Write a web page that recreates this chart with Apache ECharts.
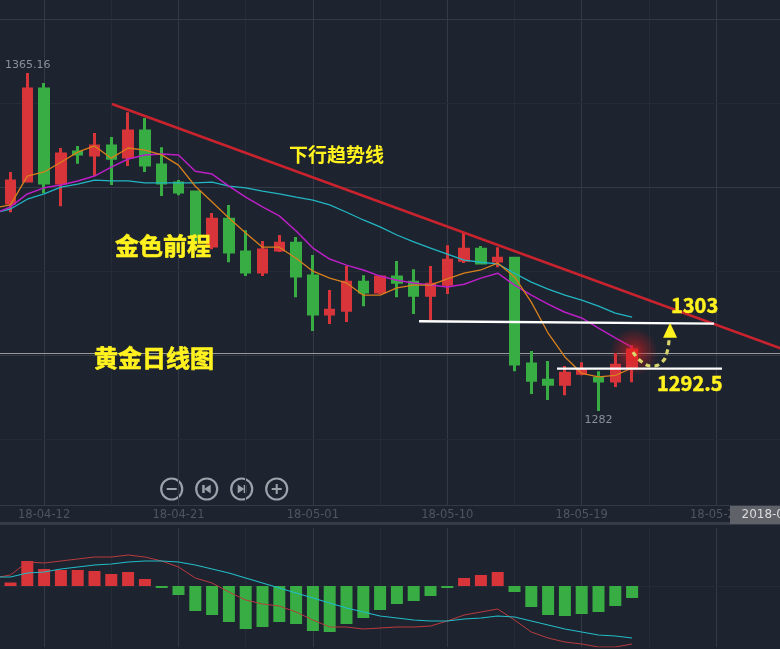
<!DOCTYPE html>
<html><head><meta charset="utf-8">
<style>html,body{margin:0;padding:0;background:#1e2330}#c{width:780px;height:649px}</style>
<script src="https://cdn.jsdelivr.net/npm/echarts@6/dist/echarts.min.js"></script>
</head><body><div id="c"></div>
<script>
const categories=['18-04-09','18-04-10','18-04-11','18-04-12','18-04-13','18-04-14','18-04-16','18-04-17','18-04-18','18-04-19','18-04-20','18-04-21','18-04-23','18-04-24','18-04-25','18-04-26','18-04-27','18-04-28','18-04-30','18-05-01','18-05-02','18-05-03','18-05-04','18-05-05','18-05-07','18-05-08','18-05-09','18-05-10','18-05-11','18-05-12','18-05-14','18-05-15','18-05-16','18-05-17','18-05-18','18-05-19','18-05-21','18-05-22','18-05-23','18-05-24','18-05-25','18-05-26','18-05-28','18-05-29','18-05-30','18-05-31','18-06-01','18-06-02'];
// open, close, low, high
const candles=[[1335,1333,1330,1338],[1333.2,1338.6,1330.9,1340.8],[1338.6,1361.2,1338.3,1365.16],[1361.2,1338.1,1335.6,1362.7],[1338.1,1345.2,1332.4,1346.7],[1345.7,1345.2,1342.8,1347.2],[1345.0,1347.2,1339.8,1350.4],[1347.2,1344.2,1337.6,1349.4],[1344.5,1350.9,1342.3,1355.5],[1350.9,1342.5,1340.8,1354.1],[1342.5,1338.1,1334.9,1346.9],[1338.1,1335.9,1335.1,1338.8],[1335.9,1324.8,1323.1,1336.2],[1322.6,1329.2,1321.8,1330.7],[1329.2,1321.1,1318.6,1332.7],[1321.1,1316.2,1315.2,1326.5],[1316.2,1321.6,1315.2,1323.8],[1321.6,1323.3,1321.1,1325.3],[1323.3,1315.2,1310.0,1324.8],[1315.2,1305.9,1301.7,1320.4],[1305.9,1306.8,1303.4,1311.8],[1306.8,1313.7,1303.9,1317.7],[1313.7,1311.3,1307.8,1315.4],[1311.3,1315.0,1310.8,1315.2],[1315.0,1313.7,1310.0,1318.9],[1313.7,1310.5,1305.9,1316.9],[1310.5,1313.2,1304.4,1317.7],[1313.2,1319.1,1310.8,1322.8],[1319.1,1321.8,1318.4,1325.8],[1321.8,1318.4,1318.2,1322.6],[1318.9,1319.6,1317.4,1322.3],[1319.6,1293.6,1291.8,1319.9],[1293.6,1289.6,1286.2,1296.8],[1289.6,1288.6,1284.7,1294.3],[1288.6,1291.3,1285.9,1293.1],[1291.3,1292.1,1290.8,1294.0],[1290.1,1289.4,1282,1291.8],[1289.4,1293.3,1287.9,1296.3],[1292.6,1297.0,1289.1,1298.2]];
const ma5=[1331.9,1332.7,1339.8,1340.8,1343.2,1345.7,1347.2,1344.2,1346.7,1346.2,1345.0,1342.5,1337.3,1333.4,1329.5,1325.8,1322.3,1322.3,1319.6,1316.4,1314.7,1313.5,1310.5,1310.5,1312.3,1313.0,1313.0,1314.5,1315.9,1316.7,1318.4,1315.0,1308.8,1301.2,1295.3,1291.3,1290.4,1290.8,1292.6];
const ma10=[1330.5,1332.2,1335.4,1336.9,1337.6,1338.6,1339.8,1342.0,1344.0,1345.0,1345.2,1345.0,1341.0,1340.3,1337.3,1334.6,1332.2,1330.0,1326.3,1322.1,1319.4,1317.9,1316.7,1315.2,1314.2,1313.5,1313.0,1312.5,1313.2,1314.7,1315.9,1313.0,1310.5,1308.3,1306.3,1304.9,1302.4,1300.0,1297.7];
const ma20=[1330.7,1331.7,1334.1,1335.4,1337.1,1337.8,1338.8,1338.6,1338.6,1338.1,1338.1,1338.1,1338.1,1338.3,1337.3,1336.9,1336.1,1335.4,1334.6,1333.9,1332.7,1330.9,1329.0,1327.3,1325.3,1323.6,1322.1,1320.6,1319.1,1318.6,1318.2,1315.9,1313.7,1312.0,1310.5,1309.3,1307.8,1306.1,1305.1];
const macdBars=[0.6,0.7,5,3.4,3.2,3.2,3,2.4,2.8,1.4,-0.4,-1.8,-5,-5.8,-7.2,-8.6,-8.2,-7.2,-7.6,-9,-9.2,-7.6,-6.4,-4.8,-3.6,-3,-2,-0.4,1.6,2.2,2.8,-1.2,-4.2,-5.8,-6,-5.6,-5.2,-4,-2.4];
const dif=[1.6,2.2,4.8,4.6,5,5.4,5.8,5.8,6.2,5.8,5,3.8,1.6,0.6,-1.2,-2.8,-3.6,-4,-5.2,-6.8,-8.2,-8.2,-8.6,-8.4,-8.2,-8.2,-8,-7,-5.8,-5.2,-4.6,-6.8,-9.2,-10.4,-11.2,-11.6,-12.2,-12.2,-11.6];
const dea=[1.8,1.8,2.6,2.8,3.4,3.8,4.2,4.4,4.8,5,5,4.8,4.2,3.4,2.6,1.6,0.6,-0.4,-1.4,-2.4,-3.4,-4.4,-5.2,-6,-6.4,-6.8,-7,-7,-6.6,-6.4,-6,-6.2,-7,-7.8,-8.6,-9.2,-9.8,-10,-10.4];
// annotation lines: [fractional bar index, price]
const trendLine=[[7.04,1357.5],[47,1297.2]];
const resistance=[[25.32,1304.1],[42.88,1303.5]];
const support=[[33.53,1292.45],[43.35,1292.45]];
const arrowPath=[[38.05,1296.5],[38.59,1294.05],[39.19,1293.07],[39.78,1294.05],[40.08,1296.5],[40.2,1300]];
const arrowHead=[[40.26,1301.9]];
const glow=[[38.11,1296.5]];
const crossPrice=1296.3;
const gridMajor=[1378.3,1337,1295.8];
const gridMinor=[1357.7,1316.4,1275.1];

const RED='#d8353b',GREEN='#37ad43',BG='#1e2330',MAJOR='#343946',MINOR='#262b38',YEL='#fff21e',GREY='#8b8f97',BTN='#9da1aa';
const cjk='"Noto Sans CJK SC"';

function hline(v,c,w){return {yAxis:v,lineStyle:{color:c,width:w,type:'solid'}};}
function annot(data,color,width,z,extra){return Object.assign({type:'line',xAxisIndex:1,yAxisIndex:0,data:data,symbol:'none',silent:true,animation:false,z:z,lineStyle:{color:color,width:width}},extra||{});}
function lineS(data,color,width,xi,yi,z){return {type:'line',xAxisIndex:xi,yAxisIndex:yi,data:data,symbol:'none',silent:true,animation:false,z:z,lineStyle:{color:color,width:width}};}
function text(t,x,y,font,fill,align,stroke){const st={text:t,x:x,y:y,font:font,fill:fill,textAlign:align||'left',textVerticalAlign:'middle'};if(stroke){st.stroke=fill;st.lineWidth=stroke;}return {type:'text',z:100,style:st};}

function btn(cx,kind){
  const cy=489,ch=[{type:'circle',shape:{cx:cx,cy:cy,r:10.5},style:{fill:'transparent',stroke:BTN,lineWidth:2.2}}];
  const bar=(x,y,w,h)=>ch.push({type:'rect',shape:{x:x,y:y,width:w,height:h},style:{fill:BTN}});
  const tri=(p)=>ch.push({type:'polygon',shape:{points:p},style:{fill:BTN}});
  if(kind==='minus'){bar(cx-5,cy-1,10,2);}
  if(kind==='plus'){bar(cx-5,cy-1,10,2);bar(cx-1,cy-5,2,10);}
  if(kind==='prev'){bar(cx-4.5,cy-4,2.5,8);tri([[cx+4,cy-4.5],[cx+4,cy+4.5],[cx-2.5,cy]]);}
  if(kind==='next'){bar(cx+2,cy-4,2.5,8);tri([[cx-4,cy-4.5],[cx-4,cy+4.5],[cx+2.5,cy]]);}
  return {type:'group',z:90,children:ch};
}

const chart=echarts.init(document.getElementById('c'),null,{renderer:'canvas'});
const splitV={show:true,alignWithLabel:true,interval:(i)=>i%4===3,lineStyle:{color:[MAJOR,MINOR],width:1}};
chart.setOption({
  animation:false,backgroundColor:BG,
  grid:[
    {left:-14.7,top:0,width:806.4,height:505,outerBoundsMode:'none'},
    {left:-14.7,top:528,width:806.4,height:119,outerBoundsMode:'none'}
  ],
  xAxis:[
    {type:'category',gridIndex:0,data:categories,boundaryGap:true,
      axisLine:{show:true,lineStyle:{color:MAJOR}},axisTick:{show:false},
      axisLabel:{show:true,interval:(i)=>i%8===3,color:'#50555f',fontFamily:'DejaVu Sans',fontSize:11.5,margin:4},
      splitLine:splitV},
    {type:'value',gridIndex:0,min:-0.5,max:47.5,show:false,splitLine:{show:false}},
    {type:'category',gridIndex:1,data:categories,boundaryGap:true,
      axisLine:{show:true,lineStyle:{color:MAJOR}},axisTick:{show:false},axisLabel:{show:false},
      splitLine:splitV}
  ],
  yAxis:[
    {type:'value',gridIndex:0,min:1258.9,max:1383.1,show:false,splitLine:{show:false}},
    {type:'value',gridIndex:1,min:-12.2,max:11.6,show:false,splitLine:{show:false}}
  ],
  series:[
    annot([],MAJOR,1,1,{markLine:{z:1,silent:true,symbol:'none',animation:false,label:{show:false},
      data:gridMajor.map(v=>hline(v,MAJOR,1)).concat(gridMinor.map(v=>hline(v,MINOR,1))).concat([hline(crossPrice,'#9a9a9a',1.2)])}}),
    {type:'candlestick',xAxisIndex:0,yAxisIndex:0,data:candles,barWidth:9,silent:true,z:2,animation:false,
      itemStyle:{color:RED,color0:GREEN,borderColor:RED,borderColor0:GREEN,borderWidth:3}},
    lineS(ma20,'#22b5c2',1.3,0,0,3),
    lineS(ma10,'#bb1fc6',1.5,0,0,3),
    lineS(ma5,'#d8801c',1.3,0,0,4),
    {type:'scatter',xAxisIndex:1,yAxisIndex:0,data:glow,symbol:'circle',symbolSize:48,silent:true,z:6,animation:false,
      itemStyle:{opacity:1,color:new echarts.graphic.RadialGradient(0.5,0.5,0.5,[{offset:0,color:'rgba(240,30,30,0.85)'},{offset:0.35,color:'rgba(220,30,30,0.45)'},{offset:1,color:'rgba(200,30,30,0)'}])}},
    annot(trendLine,'#c9232e',2.6,8),
    annot(resistance,'#ffffff',2.4,8),
    annot(support,'#ffffff',2.4,8),
    annot(arrowPath,'#d9d76c',3,9,{smooth:true,lineStyle:{color:'#d9d76c',width:3.2,type:[5,4]}}),
    {type:'scatter',xAxisIndex:1,yAxisIndex:0,data:arrowHead,symbol:'triangle',symbolSize:[14,15],silent:true,z:9,animation:false,itemStyle:{opacity:1,color:YEL}},
    {type:'bar',xAxisIndex:2,yAxisIndex:1,data:macdBars,barWidth:12,silent:true,z:2,animation:false,
      markLine:{z:1,silent:true,symbol:'none',animation:false,label:{show:false},data:[hline(0,MINOR,1)]},
      itemStyle:{color:(p)=>p.value>=0?RED:GREEN}},
    lineS(dif,'#b83c3e',1,2,1,3),
    lineS(dea,'#22bcc6',1.2,2,1,3)
  ],
  graphic:[
    {type:'rect',z:80,shape:{x:0,y:522,width:780,height:3},style:{fill:'#363b48'}},
    btn(171.7,'minus'),btn(206.7,'prev'),btn(241.7,'next'),btn(276.7,'plus'),
    {type:'rect',z:95,shape:{x:730,y:506,width:50,height:18},style:{fill:'#5f6269'}},
    text('2018-0',741.5,515,'12px "DejaVu Sans"','#dcdcdc'),
    text('1365.16',5,65.5,'11px "DejaVu Sans"',GREY),
    text('1282',584.5,420,'11px "DejaVu Sans"',GREY),
    text('下行趋势线',289,155,'bold 19px '+cjk,YEL),
    text('金色前程',115,246,'bold 24px '+cjk,YEL,'left',0.6),
    text('黄金日线图',94,358,'bold 24px '+cjk,YEL,'left',0.6),
    text('1303',671,305,'bold 20px '+cjk,YEL,'left',0.5),
    text('1292.5',657,383,'bold 20px '+cjk,YEL,'left',0.5)
  ]
});
</script></body></html>
